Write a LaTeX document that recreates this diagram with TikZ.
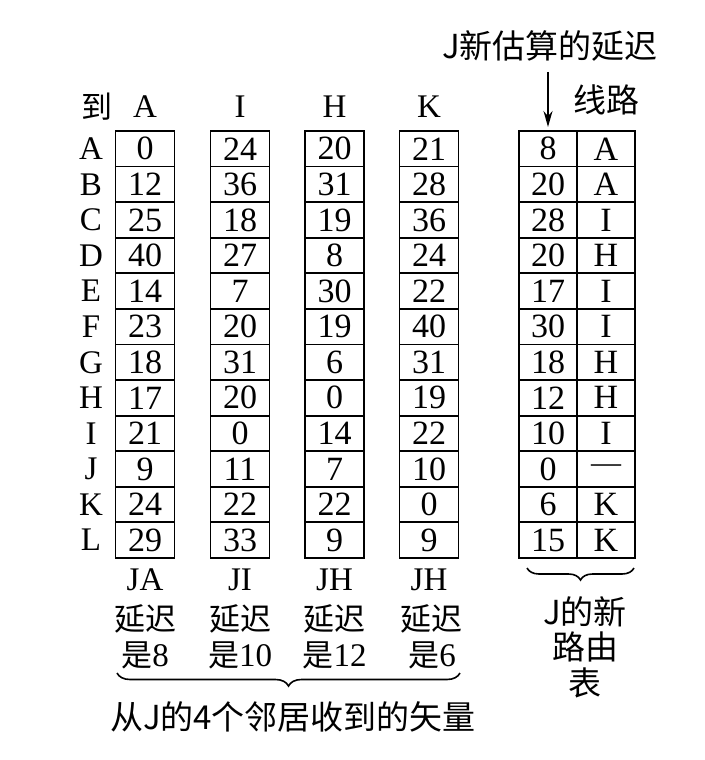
\documentclass[tikz,border=0pt]{standalone}
\usepackage{fontspec}
\setmainfont{Liberation Serif}
\newfontfamily\cjk{Noto Sans CJK SC}
\usetikzlibrary{decorations.pathreplacing,arrows.meta}
\begin{document}
\begin{tikzpicture}[x=1pt,y=-1pt,
 cell/.style={draw,line width=1.8pt,minimum width=59pt,minimum height=35.58pt,inner sep=0pt,outer sep=0pt,font=\fontsize{34}{36}\selectfont},
 lbl/.style={inner sep=0pt,font=\fontsize{33}{36}\selectfont},
 cjklbl/.style={inner sep=0pt,font=\cjk\fontsize{31}{34}\selectfont},
 bigcjk/.style={inner sep=0pt,font=\cjk\fontsize{33}{36}\selectfont},
 brc/.style={decorate,decoration={brace,amplitude=13pt,mirror},line width=1.6pt}]
\fill[white] (0,0) rectangle (704,760);
\useasboundingbox (0,0) rectangle (704,760);
% row labels
\node[cjklbl] (to) at (97,107) {到};
\foreach \r [count=\i] in {A,B,C,D,E,F,G,H,I,J,K,L}
  \node[lbl] (r\i) at (91,{131+35.58*(\i-0.5)}) {\r};
% column headers
\node[lbl] (hA) at (145,107) {A};
\node[lbl] (hI) at (240,107) {I};
\node[lbl] (hH) at (334.5,107) {H};
\node[lbl] (hK) at (429,107) {K};
% neighbour vectors
\foreach \v [count=\i] in {0,12,25,40,14,23,18,17,21,9,24,29}
  \node[cell] (a\i) at (145,{131+35.58*(\i-0.5)}) {\v};
\foreach \v [count=\i] in {24,36,18,27,7,20,31,20,0,11,22,33}
  \node[cell] (i\i) at (240,{131+35.58*(\i-0.5)}) {\v};
\foreach \v [count=\i] in {20,31,19,8,30,19,6,0,14,7,22,9}
  \node[cell] (h\i) at (334.5,{131+35.58*(\i-0.5)}) {\v};
\foreach \v [count=\i] in {21,28,36,24,22,40,31,19,22,10,0,9}
  \node[cell] (k\i) at (429,{131+35.58*(\i-0.5)}) {\v};
% new routing table
\foreach \v [count=\i] in {8,20,28,20,17,30,18,12,10,0,6,15}
  \node[cell,minimum width=58pt] (n\i) at (548,{131+35.58*(\i-0.5)}) {\v};
\foreach \v [count=\i] in {A,A,I,H,I,I,H,H,I,{\fontsize{30}{30}\selectfont —},K,K}
  \node[cell,minimum width=58pt] (l\i) at (606,{131+35.58*(\i-0.5)}) {\v};
% top labels
\node[bigcjk] (est) at (550,46) {J新估算的延迟};
\node[bigcjk] (line) at (606,100) {线路};
\coordinate (arrS) at (548,72);
\draw[line width=1.6pt,-{Stealth[length=16pt,width=9pt]},shorten >=4pt] (arrS) -- (n1.north);
% bottom labels
\node[lbl] (bA) at (145,580) {JA};
\node[lbl] (bI) at (240,580) {JI};
\node[lbl] (bH) at (334.5,580) {JH};
\node[lbl] (bK) at (429,580) {JH};
\node[cjklbl] (dA) at (145,619) {延迟};
\node[cjklbl] (dI) at (240,619) {延迟};
\node[cjklbl] (dH) at (334.5,619) {延迟};
\node[cjklbl] (dK) at (431,619) {延迟};
\node[lbl] (sA) at (145,655) {{\cjk\fontsize{31}{34}\selectfont 是}8};
\node[lbl] (sI) at (240,655) {{\cjk\fontsize{31}{34}\selectfont 是}10};
\node[lbl] (sH) at (334.5,655) {{\cjk\fontsize{31}{34}\selectfont 是}12};
\node[lbl] (sK) at (432,655) {{\cjk\fontsize{31}{34}\selectfont 是}6};
\coordinate (b1) at (117,673);
\coordinate (b2) at (460,673);
\draw[brc] (b1) -- (b2);
\node[bigcjk] (recv) at (293,717) {从J的4个邻居收到的矢量};
\coordinate (c1) at (527,568);
\coordinate (c2) at (634,568);
\draw[brc,decoration={amplitude=12pt}] (c1) -- (c2);
\node[bigcjk] (nt1) at (585,612) {J的新};
\node[bigcjk] (nt2) at (585,647) {路由};
\node[bigcjk] (nt3) at (585,683) {表};
\end{tikzpicture}
\end{document}
